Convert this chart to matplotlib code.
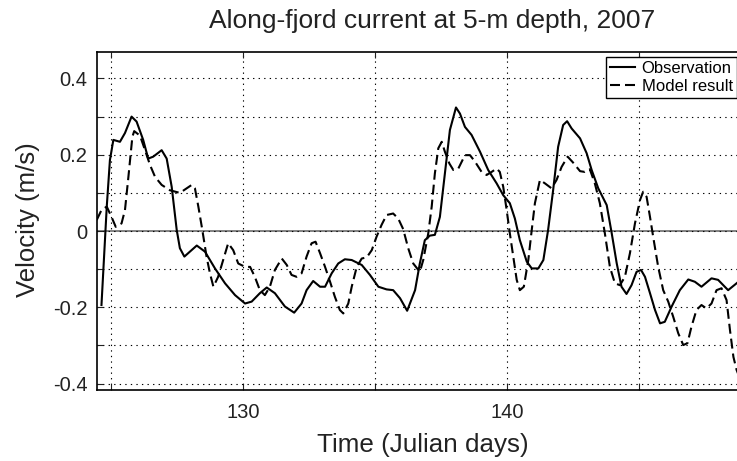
import numpy as np
import matplotlib
matplotlib.use("Agg")
import matplotlib.pyplot as plt

plt.rcParams['font.family'] = ['Liberation Sans', 'DejaVu Sans']

# observation (solid)
obs_day = [124.64, 124.84, 124.96, 125.09, 125.34, 125.53, 125.78, 125.97, 126.22, 126.41,
           126.60, 126.92, 127.11, 127.30, 127.49, 127.61, 127.78, 127.99, 128.25, 128.56,
           128.94, 129.32, 129.70, 130.08, 130.33, 130.64, 130.90, 131.21, 131.59, 131.94,
           132.22, 132.41, 132.66, 132.92, 133.11, 133.36, 133.61, 133.86, 134.12, 134.50,
           134.81, 135.13, 135.44, 135.69, 135.95, 136.22, 136.52, 136.70, 136.89, 137.08,
           137.27, 137.46, 137.65, 137.84, 138.07, 138.22, 138.41, 138.66, 138.98, 139.29,
           139.61, 139.86, 140.11, 140.30, 140.49, 140.75, 140.94, 141.19, 141.38, 141.56,
           141.75, 141.94, 142.13, 142.28, 142.45, 142.77, 143.02, 143.21, 143.46, 143.78,
           143.97, 144.16, 144.34, 144.53, 144.72, 144.91, 145.08, 145.23, 145.42, 145.61,
           145.80, 145.98, 146.24, 146.55, 146.87, 147.12, 147.37, 147.75, 148.00, 148.38,
           148.70, 148.90]
obs_vel = [-0.194, 0.064, 0.186, 0.239, 0.234, 0.257, 0.300, 0.287, 0.239, 0.190,
           0.195, 0.212, 0.190, 0.116, 0.003, -0.045, -0.067, -0.054, -0.038, -0.054,
           -0.098, -0.137, -0.168, -0.190, -0.185, -0.163, -0.148, -0.163, -0.198, -0.214,
           -0.190, -0.155, -0.131, -0.146, -0.146, -0.111, -0.085, -0.074, -0.076, -0.089,
           -0.115, -0.146, -0.153, -0.155, -0.176, -0.209, -0.155, -0.085, -0.024, -0.012,
           -0.010, 0.037, 0.151, 0.265, 0.324, 0.308, 0.273, 0.252, 0.208, 0.160,
           0.125, 0.094, 0.073, 0.033, -0.024, -0.080, -0.098, -0.098, -0.076, 0.003,
           0.107, 0.221, 0.278, 0.288, 0.269, 0.243, 0.204, 0.160, 0.112, 0.068,
           -0.006, -0.085, -0.146, -0.165, -0.142, -0.107, -0.102, -0.120, -0.163, -0.207,
           -0.242, -0.238, -0.198, -0.155, -0.127, -0.133, -0.146, -0.124, -0.128, -0.155,
           -0.137, -0.125]

# model result (dashed)
mod_day = [124.46, 124.64, 124.84, 125.02, 125.18, 125.40, 125.53, 125.66, 125.81, 125.88,
           126.10, 126.29, 126.48, 126.67, 126.92, 127.23, 127.61, 127.87, 128.06, 128.18,
           128.31, 128.46, 128.62, 128.75, 128.88, 129.06, 129.25, 129.44, 129.63, 129.82,
           130.08, 130.27, 130.45, 130.64, 130.83, 131.02, 131.21, 131.47, 131.66, 131.84,
           132.03, 132.22, 132.41, 132.60, 132.75, 132.92, 133.11, 133.30, 133.48, 133.67,
           133.80, 133.99, 134.12, 134.31, 134.50, 134.69, 134.88, 135.06, 135.25, 135.44,
           135.69, 135.88, 136.07, 136.26, 136.45, 136.70, 136.83, 137.02, 137.15, 137.27,
           137.40, 137.53, 137.65, 137.82, 137.97, 138.16, 138.41, 138.60, 138.79, 139.04,
           139.23, 139.42, 139.61, 139.73, 139.86, 139.99, 140.11, 140.24, 140.37, 140.49,
           140.64, 140.81, 140.94, 141.06, 141.25, 141.44, 141.69, 141.88, 142.07, 142.30,
           142.50, 142.77, 142.95, 143.14, 143.33, 143.52, 143.71, 143.90, 144.09, 144.28,
           144.47, 144.66, 144.85, 145.04, 145.16, 145.29, 145.42, 145.54, 145.73, 145.92,
           146.11, 146.30, 146.49, 146.68, 146.84, 146.99, 147.18, 147.37, 147.56, 147.75,
           147.94, 148.13, 148.32, 148.45, 148.58, 148.70, 148.90]
mod_vel = [0.029, 0.055, 0.064, 0.037, 0.011, 0.020, 0.055, 0.142, 0.247, 0.262,
           0.250, 0.212, 0.173, 0.142, 0.121, 0.107, 0.100, 0.112, 0.121, 0.112,
           0.064, 0.003, -0.067, -0.111, -0.146, -0.120, -0.076, -0.032, -0.050, -0.085,
           -0.094, -0.094, -0.120, -0.155, -0.168, -0.146, -0.102, -0.072, -0.089, -0.115,
           -0.120, -0.111, -0.067, -0.032, -0.028, -0.058, -0.094, -0.133, -0.172, -0.207,
           -0.216, -0.190, -0.146, -0.094, -0.072, -0.069, -0.050, -0.015, 0.016, 0.042,
           0.046, 0.033, 0.005, -0.045, -0.085, -0.107, -0.076, -0.006, 0.064, 0.151,
           0.217, 0.234, 0.208, 0.177, 0.160, 0.164, 0.199, 0.199, 0.182, 0.155,
           0.147, 0.155, 0.164, 0.155, 0.116, 0.055, -0.006, -0.067, -0.128, -0.155,
           -0.146, -0.076, 0.003, 0.073, 0.134, 0.125, 0.112, 0.134, 0.168, 0.195,
           0.180, 0.157, 0.155, 0.162, 0.125, 0.073, -0.006, -0.094, -0.137, -0.142,
           -0.120, -0.058, 0.020, 0.081, 0.103, 0.090, 0.037, -0.015, -0.094, -0.155,
           -0.185, -0.225, -0.268, -0.299, -0.294, -0.251, -0.207, -0.194, -0.203, -0.190,
           -0.155, -0.150, -0.181, -0.260, -0.330, -0.364, -0.400]

xticks = [125, 130, 135, 140, 145]
xticklabels = ['', '130', '', '140', '']
yticks = [-0.4, -0.3, -0.2, -0.1, 0, 0.1, 0.2, 0.3, 0.4]
yticklabels = ['-0.4', '', '-0.2', '', '0', '', '0.2', '', '0.4']

fig = plt.figure(figsize=(7.37, 4.61), dpi=100)
ax = fig.add_axes([0.1316, 0.154, 0.875, 0.733])

ax.axhline(0, color='#777777', lw=1.3, zorder=1)
ax.plot(obs_day, obs_vel, 'k-', lw=1.5, label='Observation', zorder=3)
ax.plot(mod_day, mod_vel, color='k', lw=1.5, ls=(0, (4.8, 2.4)), label='Model result', zorder=3)

ax.set_xlim(124.47, 148.9)
ax.set_ylim(-0.4168, 0.4692)
ax.set_xticks(xticks)
ax.set_xticklabels(xticklabels)
ax.set_yticks(yticks)
ax.set_yticklabels(yticklabels)
ax.grid(True, color='k', lw=0.8, ls=(0, (1.2, 3.8)))
ax.tick_params(direction='in', length=4, width=0.8, top=True, right=True,
               labelsize=14.5, colors='#222222')
ax.tick_params(axis='x', pad=9)
ax.tick_params(axis='y', pad=7)
for s in ax.spines.values():
    s.set_linewidth(1.2)

ax.set_title('Along-fjord current at 5-m depth, 2007', fontsize=19, color='#222222',
             x=0.519, y=1.071, pad=0)
ax.set_xlabel('Time (Julian days)', fontsize=18.7, color='#222222')
ax.xaxis.set_label_coords(0.505, -0.183)
ax.xaxis.label.set_va('baseline')
ax.set_ylabel('Velocity (m/s)', fontsize=18.5, color='#222222')
ax.yaxis.set_label_coords(-0.107, 0.503)
ax.yaxis.label.set_va('center')

leg = ax.legend(loc='upper right', fontsize=12, fancybox=False, framealpha=1,
                edgecolor='k', borderaxespad=0.3, borderpad=0.25, labelspacing=0.15,
                handlelength=1.5, handletextpad=0.4)
leg.get_frame().set_linewidth(1.0)

fig.savefig('out.png', dpi=100)
